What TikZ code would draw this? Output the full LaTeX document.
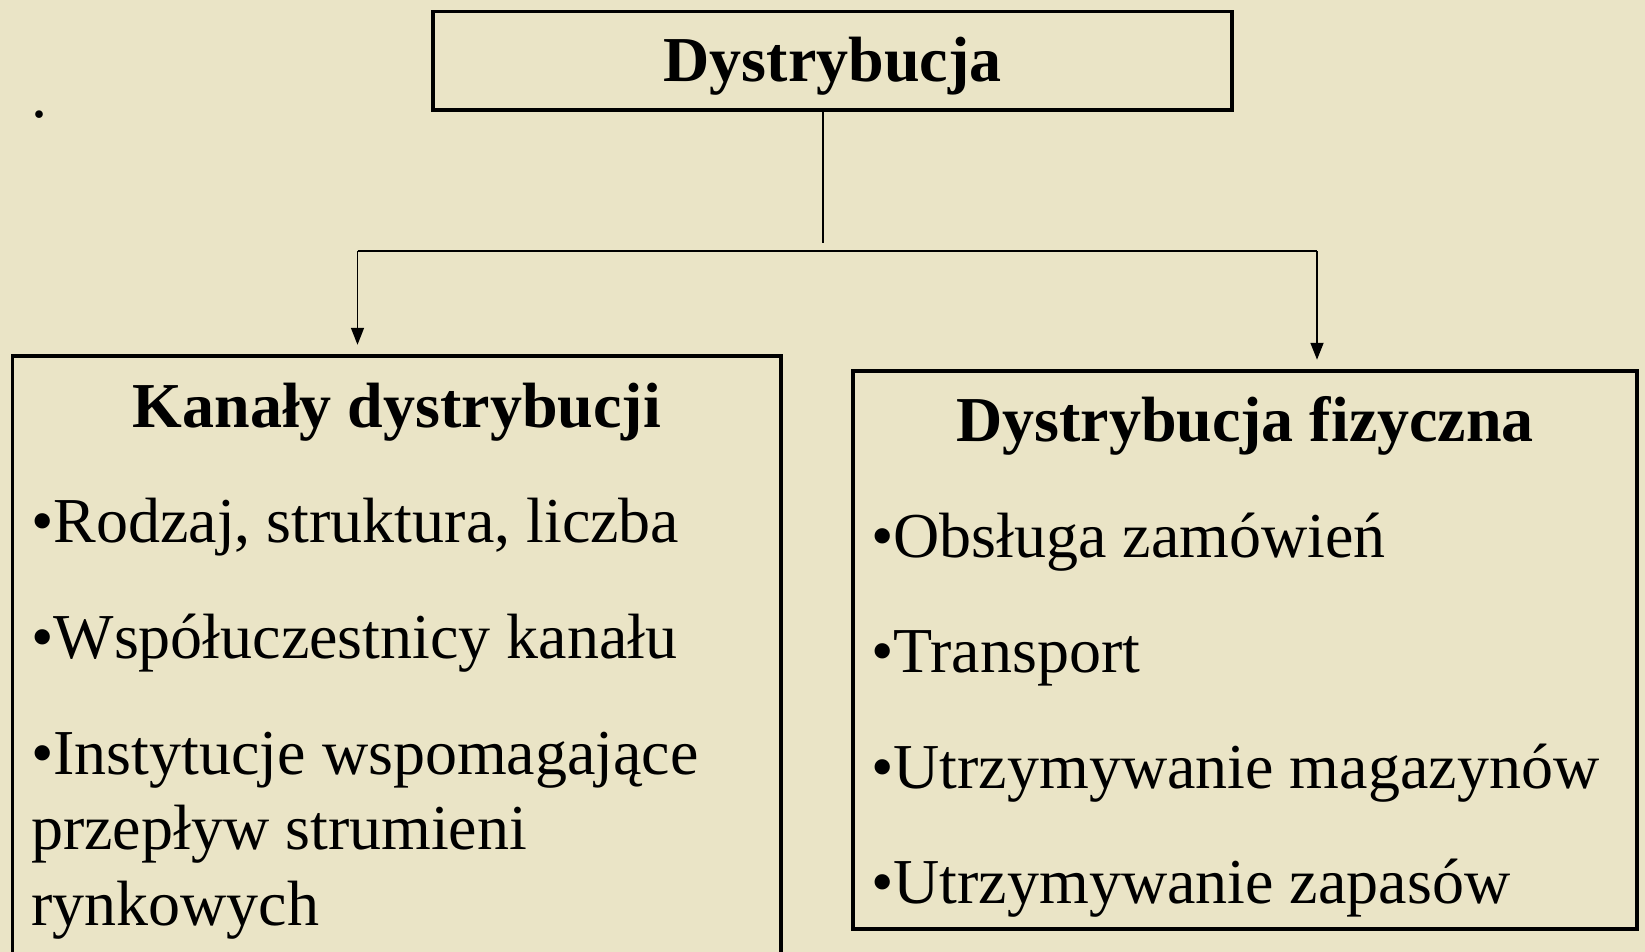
\documentclass[tikz,border=0pt]{standalone}
\usepackage{fontspec}
\setmainfont{Liberation Serif}
\usetikzlibrary{arrows.meta,positioning}
\definecolor{paper}{RGB}{234,228,198}
\tikzset{
  box/.style={draw, line width=3.5pt, inner sep=0pt},
  title/.style={font=\fontsize{64}{76}\selectfont\bfseries, inner sep=0pt, anchor=base},
  item/.style={font=\fontsize{64}{76}\selectfont, inner sep=0pt, anchor=base west},
  link/.style={line width=1.7pt},
  arrowlink/.style={link, -{Triangle[width=13pt,length=17pt]}, shorten >=9.5pt}
}
\begin{document}
\begin{tikzpicture}[x=1pt,y=1pt]
  \clip (0,0) rectangle (1645,-952);
  \fill[paper] (0,0) rectangle (1645,-952);
  \node[item] (dot) at (31,-118) {.};
  % boxes
  \node[box, minimum width=799pt, minimum height=98.5pt] (dystr) at (832.5,-60.75) {};
  \node[box, minimum width=768.4pt, minimum height=654pt] (kanaly) at (396.8,-683) {};
  \node[box, minimum width=784pt, minimum height=558pt] (fizyczna) at (1245,-650) {};
  % titles
  \node[title] (dystrT) at (dystr.center |- 0,-82) {Dystrybucja};
  \node[title] (kanalyT) at (kanaly.center |- 0,-427) {Kanały dystrybucji};
  \node[title] (fizycznaT) at (fizyczna.center |- 0,-441) {Dystrybucja fizyczna};
  % items
  \node[item] (kan1) at (31,-542) {•Rodzaj, struktura, liczba};
  \node[item] (kan2) at (31,-658) {•Współuczestnicy kanału};
  \node[item] (kan3) at (31,-774) {•Instytucje wspomagające};
  \node[item] (kan4) at (31,-849.5) {przepływ strumieni};
  \node[item] (kan5) at (31,-925) {rynkowych};
  \foreach \txt [count=\i] in {Obsługa zamówień, Transport,
      Utrzymywanie magazynów, Utrzymywanie zapasów}
    \node[item] (fiz\i) at (871,{-557-115.5*(\i-1)}) {•\txt};
  % connectors
  \coordinate (fork) at (823,-243);
  \coordinate (forkL) at (357.5,-251);
  \coordinate (forkR) at (1317,-251);
  \draw[link] (dystr.south -| fork) -- (fork);
  \draw[link] (forkL) -- (forkR);
  \draw[arrowlink] (forkL) -- (forkL |- kanaly.north);
  \draw[arrowlink] (forkR) -- (forkR |- fizyczna.north);
\end{tikzpicture}
\end{document}
